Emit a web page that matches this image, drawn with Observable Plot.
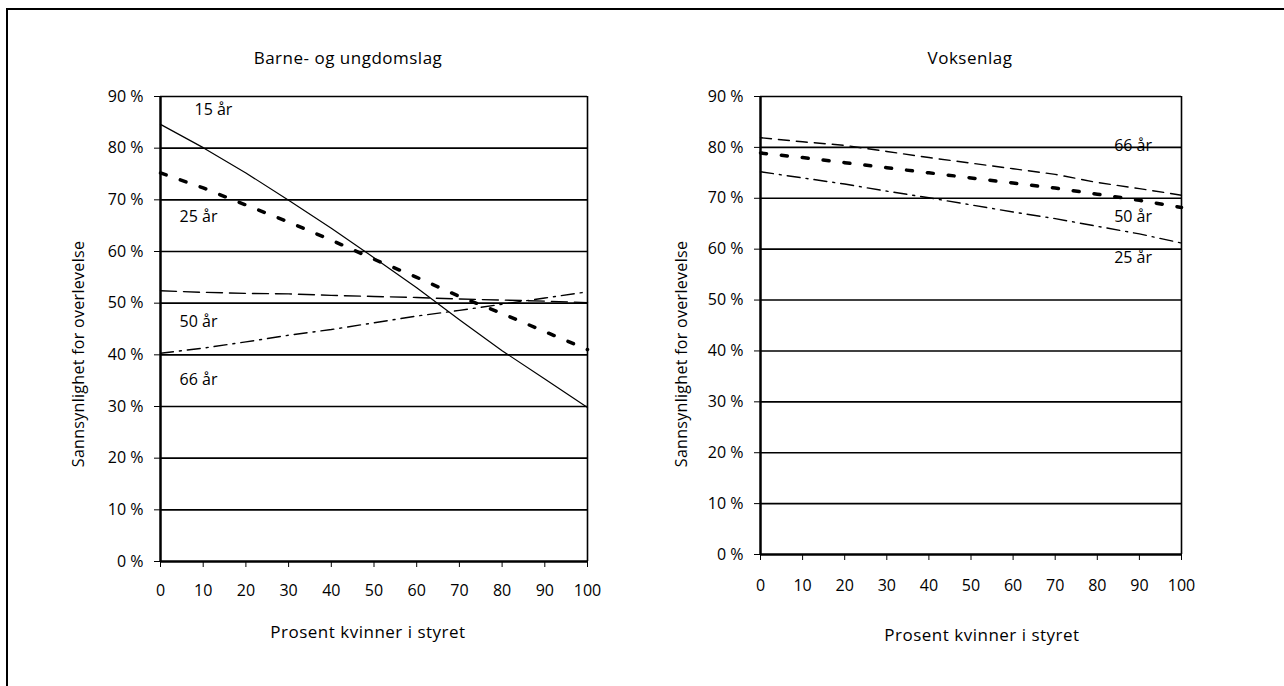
<!DOCTYPE html>
<html><head><meta charset="utf-8">
<script src="https://cdn.jsdelivr.net/npm/d3@7"></script>
<script src="https://cdn.jsdelivr.net/npm/@observablehq/plot@0.6"></script>
<style>
body{margin:0;background:#fff;font-family:"Open Sans",sans-serif;color:#000;}
#wrap{position:relative;width:1284px;height:686px;overflow:hidden;background:#fff;}
#frame{position:absolute;left:6px;top:8px;width:1400px;height:800px;border-top:2px solid #000;border-left:2px solid #000;}
.t{position:absolute;font-size:17px;letter-spacing:0.5px;white-space:nowrap;transform:translate(-50%,-50%);}
.ry{font-size:16px;letter-spacing:0.3px;transform:translate(-50%,-50%) rotate(-90deg);}
svg{position:absolute;}
</style></head><body>
<div id="wrap"><div id="frame"></div></div>
<script>
// ---- data ----
const pctWomen = [0,10,20,30,40,50,60,70,80,90,100];
const yTicks = [0,10,20,30,40,50,60,70,80,90];
const xTicks = [0,10,20,30,40,50,60,70,80,90,100];

// Barne- og ungdomslag
const youth15 = [84.6,80.1,75.2,69.9,64.5,58.8,53.0,46.8,40.8,35.3,29.8];
const youth25 = [75.2,72.3,69.0,65.7,62.2,58.5,55.0,51.3,48.0,44.5,41.0];
const youth50 = [52.4,52.1,51.9,51.8,51.5,51.3,51.1,50.8,50.6,50.4,50.1];
const youth66 = [40.3,41.3,42.5,43.8,44.9,46.2,47.5,48.6,49.8,51.0,52.2];

// Voksenlag
const adult66 = [81.9,81.1,80.4,79.2,78.0,76.9,75.8,74.7,73.1,71.9,70.6];
const adult50 = [78.9,78.0,77.0,76.0,75.0,74.0,73.0,72.0,70.8,69.6,68.2];
const adult25 = [75.2,74.0,72.8,71.4,70.1,68.7,67.3,66.0,64.5,63.0,61.2];

const youthLabels = [
  {text:"15 år", x:12.4, y:87.4},
  {text:"25 år", x:8.9, y:66.7},
  {text:"50 år", x:8.9, y:46.4},
  {text:"66 år", x:8.9, y:35.1}
];
const adultLabels = [
  {text:"66 år", x:88.5, y:80.2},
  {text:"50 år", x:88.5, y:66.3},
  {text:"25 år", x:88.5, y:58.3}
];

const titles = ["Barne- og ungdomslag","Voksenlag"];
const xTitle = "Prosent kvinner i styret";
const yTitle = "Sannsynlighet for overlevelse";

// ---- styles ----
const styles = {
  solid:{strokeWidth:1.2},
  thick:{strokeWidth:3.5, strokeDasharray:"6,15"},
  dashed:{strokeWidth:1.4, strokeDasharray:"16,7"},
  dashedShort:{strokeWidth:1.4, strokeDasharray:"11,7"},
  dashdot:{strokeWidth:1.4, strokeDasharray:"13,6,2,6"}
};

function series(vals){ return pctWomen.map((p,i)=>({x:p,y:vals[i]})); }

function panel(cfg){
  const marks = [
    Plot.ruleY(yTicks.filter(d=>d>0), {stroke:"#000", strokeWidth:1.6}),
    Plot.ruleX([100], {y1:0, y2:90, stroke:"#000", strokeWidth:1.6}),
    ...cfg.lines.map(l=>Plot.line(series(l.vals), {x:"x", y:"y", stroke:"#000", ...l.style})),
    Plot.text(cfg.labels, {x:"x", y:"y", text:"text", fontSize:16, fill:"#000"}),
    Plot.axisY({ticks:yTicks, tickFormat:d=>d+" %", tickSize:6, tickPadding:11, label:null, fontSize:16}),
    Plot.axisX({ticks:xTicks, tickSize:6, tickPadding:cfg.xpad, label:null, fontSize:16}),
    Plot.ruleX([0], {y1:0, y2:90, stroke:"#000", strokeWidth:2.5}),
    Plot.ruleY([0], {stroke:"#000", strokeWidth:2.5})
  ];
  const svg = Plot.plot({
    width:cfg.width, height:686,
    marginLeft:cfg.ml, marginRight:cfg.mr, marginTop:cfg.mt, marginBottom:cfg.mb,
    x:{domain:[0,100]},
    y:{domain:[0,90]},
    style:{background:"transparent", fontFamily:"Open Sans", fontSize:"16px", color:"#000", maxWidth:"none"},
    marks
  });
  svg.style.left = cfg.left+"px";
  svg.style.top = "0px";
  return svg;
}

const wrap = document.getElementById("wrap");
wrap.appendChild(panel({
  left:0, width:640, ml:160, mr:53, mt:96, mb:125, xpad:17,
  lines:[
    {vals:youth15, style:styles.solid},
    {vals:youth25, style:styles.thick},
    {vals:youth50, style:styles.dashed},
    {vals:youth66, style:styles.dashdot}
  ],
  labels:youthLabels
}));
wrap.appendChild(panel({
  left:640, width:644, ml:120, mr:103, mt:96, mb:132, xpad:19,
  lines:[
    {vals:adult66, style:styles.dashedShort},
    {vals:adult50, style:styles.thick},
    {vals:adult25, style:styles.dashdot}
  ],
  labels:adultLabels
}));

function addText(txt, x, y, cls){
  const d = document.createElement("div");
  d.className = "t" + (cls ? " "+cls : "");
  d.textContent = txt;
  d.style.left = x+"px"; d.style.top = y+"px";
  wrap.appendChild(d);
}
addText(titles[0], 348, 57);
addText(titles[1], 970, 57);
addText(xTitle, 368, 631);
addText(xTitle, 982, 634);
addText(yTitle, 78, 354, "ry");
addText(yTitle, 681, 354, "ry");
</script>
</body></html>
